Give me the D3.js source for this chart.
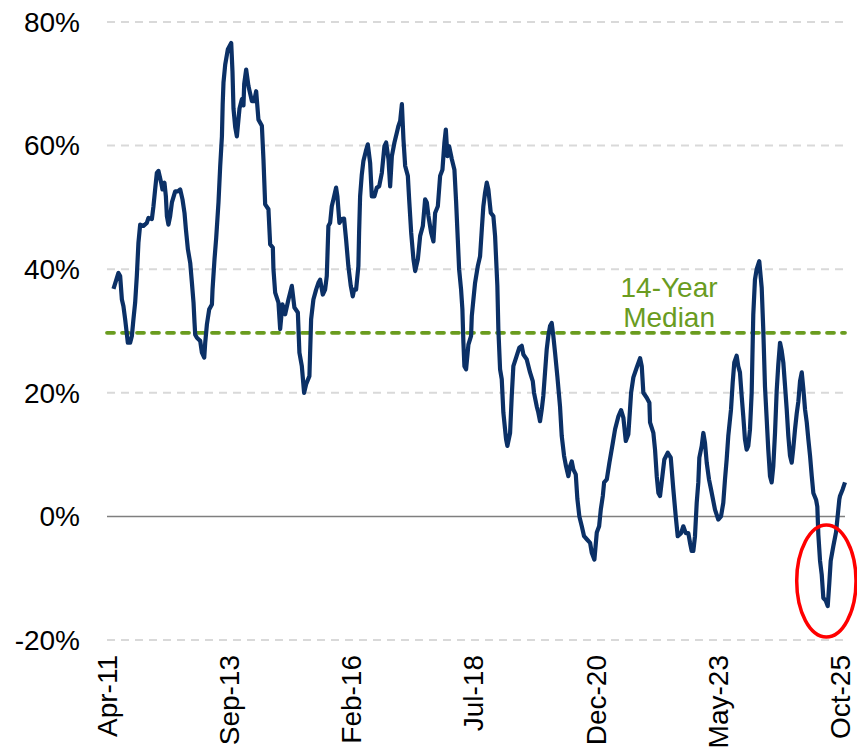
<!DOCTYPE html>
<html>
<head>
<meta charset="utf-8">
<script src="https://cdn.jsdelivr.net/npm/d3@7"></script>
<style>
  body { margin: 0; background: #fff; }
  svg { display: block; font-family: "Liberation Sans", Arial, sans-serif; }
</style>
</head>
<body>
<div id="chart"></div>
<script>
// decimal years
const years = [
  2011.375, 2011.473, 2011.507, 2011.541, 2011.572, 2011.606, 2011.659, 2011.705, 2011.739, 2011.770,
  2011.804, 2011.837, 2011.869, 2011.903, 2011.968, 2012.035, 2012.067, 2012.134, 2012.166, 2012.199,
  2012.233, 2012.265, 2012.318, 2012.344, 2012.383, 2012.411, 2012.431, 2012.462, 2012.496, 2012.530,
  2012.595, 2012.648, 2012.694, 2012.739, 2012.779, 2012.807, 2012.846, 2012.892, 2012.925, 2012.957,
  2012.977, 2012.990, 2013.024, 2013.089, 2013.123, 2013.169, 2013.188, 2013.222, 2013.267, 2013.321,
  2013.333, 2013.372, 2013.406, 2013.451, 2013.485, 2013.519, 2013.534, 2013.550, 2013.584, 2013.637,
  2013.703, 2013.728, 2013.748, 2013.782, 2013.815, 2013.867, 2013.914, 2013.946, 2013.960, 2013.999,
  2014.045, 2014.112, 2014.157, 2014.197, 2014.242, 2014.310, 2014.341, 2014.375, 2014.440, 2014.474,
  2014.527, 2014.539, 2014.573, 2014.638, 2014.672, 2014.717, 2014.771, 2014.836, 2014.903, 2014.954,
  2015.022, 2015.053, 2015.101, 2015.146, 2015.186, 2015.251, 2015.285, 2015.330, 2015.384, 2015.429,
  2015.463, 2015.516, 2015.562, 2015.595, 2015.627, 2015.661, 2015.694, 2015.726, 2015.779, 2015.805,
  2015.845, 2015.892, 2015.937, 2015.977, 2016.022, 2016.070, 2016.109, 2016.135, 2016.175, 2016.220,
  2016.234, 2016.254, 2016.287, 2016.319, 2016.367, 2016.406, 2016.452, 2016.485, 2016.537, 2016.584,
  2016.630, 2016.683, 2016.734, 2016.768, 2016.814, 2016.847, 2016.881, 2016.932, 2016.980, 2017.011,
  2017.045, 2017.079, 2017.110, 2017.144, 2017.197, 2017.223, 2017.263, 2017.308, 2017.342, 2017.395,
  2017.441, 2017.494, 2017.539, 2017.573, 2017.605, 2017.658, 2017.704, 2017.737, 2017.791, 2017.836,
  2017.882, 2017.921, 2017.949, 2017.981, 2018.014, 2018.068, 2018.119, 2018.153, 2018.186, 2018.212,
  2018.251, 2018.277, 2018.297, 2018.317, 2018.350, 2018.396, 2018.449, 2018.463, 2018.495, 2018.528,
  2018.582, 2018.627, 2018.661, 2018.692, 2018.726, 2018.760, 2018.791, 2018.839, 2018.890, 2018.924,
  2018.969, 2018.989, 2019.023, 2019.056, 2019.088, 2019.141, 2019.167, 2019.221, 2019.254, 2019.286,
  2019.353, 2019.404, 2019.452, 2019.484, 2019.551, 2019.616, 2019.670, 2019.695, 2019.749, 2019.780,
  2019.814, 2019.848, 2019.879, 2019.913, 2019.946, 2019.978, 2020.012, 2020.045, 2020.077, 2020.111,
  2020.156, 2020.209, 2020.243, 2020.289, 2020.328, 2020.374, 2020.407, 2020.441, 2020.472, 2020.520,
  2020.552, 2020.591, 2020.639, 2020.684, 2020.738, 2020.803, 2020.836, 2020.888, 2020.935, 2020.981,
  2021.014, 2021.054, 2021.080, 2021.133, 2021.185, 2021.252, 2021.297, 2021.363, 2021.416, 2021.461,
  2021.509, 2021.560, 2021.614, 2021.659, 2021.726, 2021.792, 2021.825, 2021.857, 2021.924, 2021.976,
  2021.989, 2022.055, 2022.088, 2022.122, 2022.154, 2022.187, 2022.233, 2022.272, 2022.340, 2022.399,
  2022.450, 2022.498, 2022.537, 2022.603, 2022.648, 2022.696, 2022.747, 2022.781, 2022.814, 2022.846,
  2022.879, 2022.913, 2022.945, 2022.965, 2023.012, 2023.044, 2023.077, 2023.111, 2023.156, 2023.196,
  2023.275, 2023.340, 2023.394, 2023.439, 2023.473, 2023.506, 2023.538, 2023.592, 2023.625, 2023.657,
  2023.704, 2023.736, 2023.769, 2023.803, 2023.835, 2023.868, 2023.902, 2023.934, 2023.967, 2024.001,
  2024.033, 2024.066, 2024.100, 2024.151, 2024.199, 2024.230, 2024.264, 2024.298, 2024.329, 2024.363,
  2024.396, 2024.428, 2024.462, 2024.495, 2024.527, 2024.561, 2024.594, 2024.626, 2024.660, 2024.693,
  2024.725, 2024.758, 2024.792, 2024.824, 2024.857, 2024.891, 2024.923, 2024.956, 2024.990, 2025.022,
  2025.055, 2025.089, 2025.120, 2025.154, 2025.188, 2025.219, 2025.273, 2025.298, 2025.318, 2025.352,
  2025.385, 2025.417, 2025.464, 2025.504, 2025.536, 2025.563, 2025.615, 2025.668, 2025.694, 2025.733,
  2025.747, 2025.801, 2025.846
];

// values in %
const values = [
  36.8, 39.4, 38.9, 35.1, 34.0, 31.9, 28.1, 28.1, 29.2, 31.9,
  34.6, 38.9, 44.3, 47.2, 47.0, 47.5, 48.3, 48.1, 50.2, 52.9,
  55.6, 55.9, 54.0, 52.9, 54.0, 51.8, 48.6, 47.2, 48.6, 50.8,
  52.6, 52.6, 52.9, 51.3, 49.1, 46.4, 43.2, 41.0, 37.8, 34.6,
  31.3, 29.4, 28.9, 28.4, 26.5, 25.7, 28.1, 31.1, 33.5, 34.3,
  36.7, 41.6, 45.1, 50.8, 56.7, 61.5, 66.7, 70.2, 73.1, 75.6,
  76.6, 72.0, 66.0, 63.0, 61.5, 66.0, 67.5, 66.5, 70.0, 72.3,
  69.6, 67.2, 67.2, 68.8, 64.2, 63.2, 57.8, 50.5, 49.7, 44.0,
  43.5, 40.0, 36.2, 34.6, 30.3, 34.3, 32.7, 35.1, 37.3, 33.8,
  33.0, 26.5, 24.3, 20.0, 21.4, 22.7, 31.9, 35.1, 36.7, 37.8,
  38.3, 35.9, 36.7, 38.9, 47.0, 47.5, 50.2, 51.3, 53.2, 51.8,
  47.5, 48.1, 48.2, 44.8, 40.5, 37.3, 35.6, 36.7, 36.7, 40.5,
  45.9, 51.8, 55.3, 57.5, 59.1, 60.2, 57.2, 51.8, 51.8, 53.2,
  53.4, 55.6, 59.9, 60.5, 57.8, 53.4, 58.3, 60.5, 62.1, 63.2,
  64.0, 66.7, 61.0, 56.7, 55.1, 51.3, 45.9, 41.6, 39.7, 41.6,
  45.4, 47.0, 51.3, 50.8, 48.6, 45.9, 44.5, 49.1, 50.2, 55.1,
  56.1, 60.5, 62.6, 58.3, 59.9, 57.8, 56.1, 50.8, 44.8, 40.0,
  36.7, 33.5, 28.1, 24.3, 23.8, 27.8, 29.2, 32.4, 35.1, 37.8,
  40.5, 42.1, 46.4, 50.2, 52.4, 54.0, 52.9, 49.1, 48.6, 45.4,
  37.3, 30.3, 23.8, 22.2, 16.8, 12.5, 11.4, 13.5, 19.5, 24.3,
  26.0, 27.3, 27.6, 26.2, 25.4, 23.3, 21.9, 20.0, 17.8, 16.8,
  15.4, 17.3, 19.5, 23.3, 27.0, 29.2, 30.8, 31.3, 29.2, 26.5,
  22.7, 17.8, 13.0, 9.8, 8.1, 6.5, 8.1, 8.9, 7.6, 6.8,
  2.8, 0.0, -1.6, -3.2, -3.7, -4.3, -5.9, -7.0, -2.6, -1.6,
  1.1, 3.3, 5.5, 6.0, 8.7, 11.9, 14.1, 16.2, 17.2, 16.0,
  12.2, 13.3, 20.0, 22.5, 24.1, 25.6, 24.3, 20.0, 19.2, 18.4,
  15.2, 13.5, 10.8, 6.5, 3.8, 3.3, 6.5, 9.2, 10.3, 9.5,
  4.4, 0.0, -3.2, -2.7, -1.6, -2.7, -2.7, -4.3, -5.6, -5.6,
  -3.2, 2.2, 5.5, 9.5, 11.4, 13.5, 11.9, 8.7, 6.0, 4.4,
  1.1, -0.5, 0.0, 2.2, 6.0, 9.2, 13.0, 17.3, 21.6, 24.9,
  26.0, 24.3, 23.3, 19.5, 16.2, 12.5, 10.8, 11.4, 14.0, 20.0,
  32.7, 38.3, 40.0, 41.3, 37.0, 30.3, 21.0, 15.7, 10.8, 6.5,
  5.5, 8.1, 13.5, 20.3, 24.6, 28.1, 26.8, 24.9, 21.1, 17.3,
  13.0, 9.8, 8.7, 11.1, 14.1, 16.7, 18.6, 21.9, 23.3, 20.6,
  17.3, 15.2, 12.5, 9.8, 6.5, 3.8, 2.7, 1.6, -2.9, -7.2,
  -9.4, -13.2, -13.6, -14.5, -10.7, -7.2, -4.8, -2.6, -0.5, 2.7,
  3.3, 4.4, 5.5
];

const tickLabels = ["Apr-11", "Sep-13", "Feb-16", "Jul-18", "Dec-20", "May-23", "Oct-25"];
const tickDates = ["2011-04-01", "2013-09-01", "2016-02-01", "2018-07-01", "2020-12-01", "2023-05-01", "2025-10-01"];
const yTicks = [-20, 0, 20, 40, 60, 80];
const median = 29.7;
const medianLabel = ["14-Year", "Median"];
// red circle around the latest dip: centre (year, %), half width (years), half height (%)
const highlight = { year: 2025.477, value: -10.45, rYears: 0.587, rValue: 9.06 };

const margin = { top: 22, right: 12, bottom: 116, left: 107 };
const width = 857 - margin.left - margin.right;
const height = 756 - margin.top - margin.bottom;

function toDate(y) {
  const yr = Math.floor(y);
  const a = Date.UTC(yr, 0, 1), b = Date.UTC(yr + 1, 0, 1);
  return new Date(a + (y - yr) * (b - a));
}

const data = years.map((y, i) => ({ date: toDate(y), value: values[i] }));

const x = d3.scaleUtc()
  .domain([new Date(tickDates[0]), data[data.length - 1].date])
  .range([0, width]);
const y = d3.scaleLinear().domain([-20, 80]).range([height, 0]);

const svg = d3.select("#chart")
  .append("svg")
  .attr("width", 857)
  .attr("height", 756)
  .append("g")
  .attr("transform", `translate(${margin.left},${margin.top})`);

// gridlines
svg.append("g")
  .selectAll("line")
  .data(yTicks.filter((d) => d !== 0))
  .join("line")
  .attr("x1", 0)
  .attr("x2", width)
  .attr("y1", (d) => y(d))
  .attr("y2", (d) => y(d))
  .attr("stroke", "#d9d9d9")
  .attr("stroke-width", 2)
  .attr("stroke-dasharray", "8,6");

// zero line
svg.append("line")
  .attr("x1", 0)
  .attr("x2", width)
  .attr("y1", y(0))
  .attr("y2", y(0))
  .attr("stroke", "#7f7f7f")
  .attr("stroke-width", 1.5);

// y labels
svg.append("g")
  .selectAll("text")
  .data(yTicks)
  .join("text")
  .attr("x", -27)
  .attr("y", (d) => y(d))
  .attr("dy", "0.35em")
  .attr("text-anchor", "end")
  .attr("font-size", 28)
  .attr("fill", "#000")
  .text((d) => d + "%");

// x labels, rotated
svg.append("g")
  .selectAll("text")
  .data(tickLabels)
  .join("text")
  .attr("transform", (d, i) => `translate(${x(new Date(tickDates[i]))},${height + 15}) rotate(-90)`)
  .attr("dy", "0.35em")
  .attr("text-anchor", "end")
  .attr("font-size", 28)
  .attr("fill", "#000")
  .text((d) => d);

// median line
svg.append("line")
  .attr("x1", 0)
  .attr("x2", width)
  .attr("y1", y(median))
  .attr("y2", y(median))
  .attr("stroke", "#6a9c1f")
  .attr("stroke-width", 3.8)
  .attr("stroke-linecap", "round")
  .attr("stroke-dasharray", "7,8");

const medianText = svg.append("text")
  .attr("text-anchor", "middle")
  .attr("font-size", 28)
  .attr("fill", "#6a9c1f");
medianText.selectAll("tspan")
  .data(medianLabel)
  .join("tspan")
  .attr("x", x(toDate(2022.366)))
  .attr("y", (d, i) => y(median) - 36 + i * 30)
  .text((d) => d);

// main series
const line = d3.line()
  .x((d) => x(d.date))
  .y((d) => y(d.value));

svg.append("path")
  .datum(data)
  .attr("fill", "none")
  .attr("stroke", "#0b3066")
  .attr("stroke-width", 4.2)
  .attr("stroke-linejoin", "round")
  .attr("d", line);

// highlight ellipse
const cx = x(toDate(highlight.year));
svg.append("ellipse")
  .attr("cx", cx)
  .attr("cy", y(highlight.value))
  .attr("rx", x(toDate(highlight.year + highlight.rYears)) - cx)
  .attr("ry", y(highlight.value - highlight.rValue) - y(highlight.value))
  .attr("fill", "none")
  .attr("stroke", "#ff0000")
  .attr("stroke-width", 3.5);
</script>
</body>
</html>
